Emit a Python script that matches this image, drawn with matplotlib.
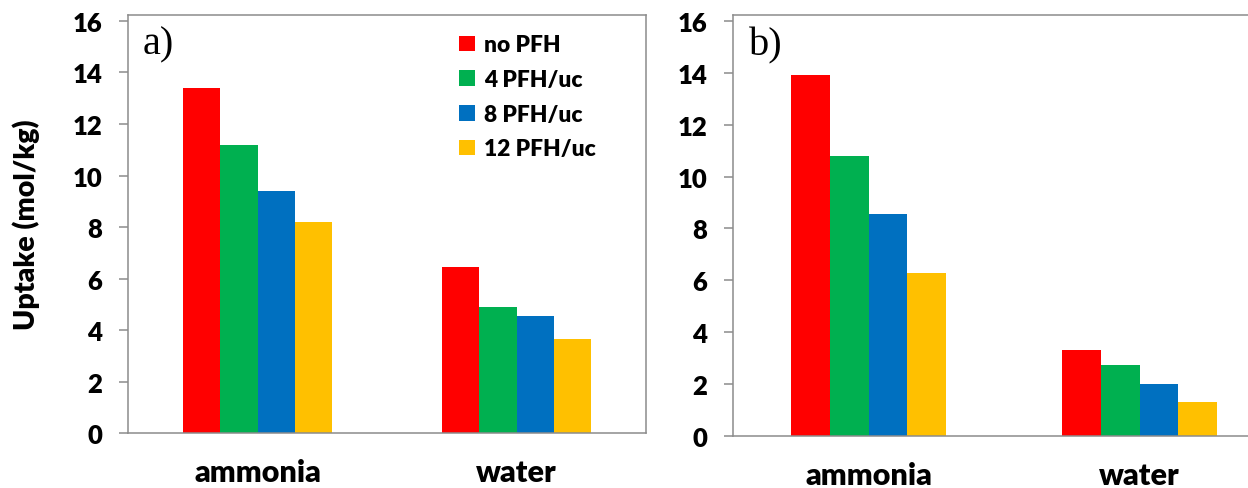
import numpy as np
import matplotlib.pyplot as plt

categories = ['ammonia', 'water']
series_labels = ['no PFH', '4 PFH/uc', '8 PFH/uc', '12 PFH/uc']
series_colors = ['#FF0000', '#00B050', '#0070C0', '#FFC000']

# rows = series, columns = categories
uptake_a = [
    [13.4, 6.45],
    [11.2, 4.9],
    [9.4, 4.55],
    [8.2, 3.65],
]
uptake_b = [
    [13.9, 3.3],
    [10.8, 2.72],
    [8.55, 2.0],
    [6.3, 1.3],
]
yticks = [0, 2, 4, 6, 8, 10, 12, 14, 16]

plt.rcParams['font.family'] = ['Lato', 'DejaVu Sans']
W, H = 1248, 489
fig = plt.figure(figsize=(W / 100, H / 100), dpi=100)

grey = '#8c8c8c'
bar_w = 0.143
wt = 'heavy'


def panel(rect, data, tag, tag_y):
    ax = fig.add_axes(rect)
    x = np.arange(len(categories))
    bars = []
    for i, vals in enumerate(data):
        off = (i - (len(data) - 1) / 2) * bar_w
        b = ax.bar(x + off, vals, width=bar_w, color=series_colors[i],
                   label=series_labels[i], zorder=2)
        bars.append(b)
    ax.set_xlim(-0.5, len(categories) - 0.5)
    ax.set_ylim(0, 16.24)
    ax.set_yticks(yticks)
    ax.set_yticklabels([str(t) for t in yticks])
    ax.set_xticks(x)
    ax.set_xticklabels(categories)
    for s in ax.spines.values():
        s.set_color(grey)
        s.set_linewidth(1.1)
    ax.tick_params(axis='y', direction='out', length=6.5, width=1.1, color=grey,
                   pad=12, labelsize=18.5)
    ax.tick_params(axis='x', length=0, pad=18, labelsize=22)
    for lab in ax.get_xticklabels() + ax.get_yticklabels():
        lab.set_fontweight(wt)
    ax.text(0.029, tag_y, tag, transform=ax.transAxes, fontsize=29,
            family='Liberation Serif', va='baseline', ha='left')
    return ax, bars


def px_rect(x0, x1, ytop, ybot):
    return [x0 / W, 1 - ybot / H, (x1 - x0) / W, (ybot - ytop) / H]


ax1, bars = panel(px_rect(128, 646, 15.7, 434.3), uptake_a, 'a)', 0.908)
ax2, _ = panel(px_rect(733, 1275, 15.7, 437), uptake_b, 'b)', 0.905)

ax1.set_ylabel('Uptake (mol/kg)', fontsize=20.5, fontweight=wt)
ax1.yaxis.set_label_coords(-0.17, 0.5)

ax1.legend(handles=bars, loc='upper left', bbox_to_anchor=(0.617, 0.98),
           frameon=False, handlelength=0.7, handleheight=0.7,
           handletextpad=0.4, labelspacing=0.6, borderpad=0,
           prop={'weight': wt, 'size': 16.4})

fig.savefig('out.png', dpi=100)
